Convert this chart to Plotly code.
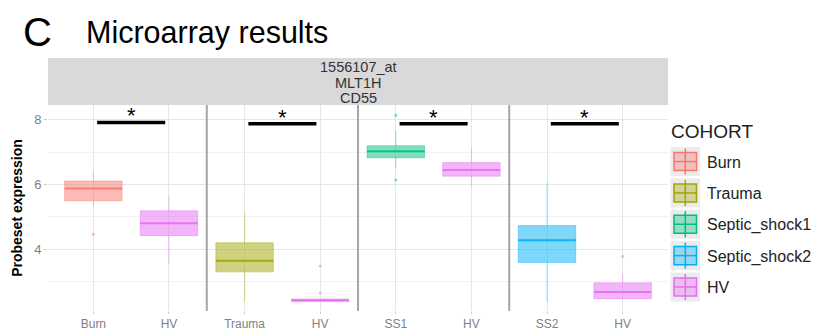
import plotly.graph_objects as go

# ---- data -------------------------------------------------------------
tick_labels = ["Burn", "HV", "Trauma", "HV", "SS1", "HV", "SS2", "HV"]
cohorts = ["Burn", "Trauma", "Septic_shock1", "Septic_shock2", "HV"]
colors = ["#F8766D", "#A3A500", "#00BF7D", "#00B0F6", "#E76BF3"]

# position index on the x axis for each cohort's boxes
cohort_pos = {
    "Burn": [0],
    "Trauma": [2],
    "Septic_shock1": [4],
    "Septic_shock2": [6],
    "HV": [1, 3, 5, 7],
}
q1 = {"Burn": [5.50], "Trauma": [3.30], "Septic_shock1": [6.83],
      "Septic_shock2": [3.59], "HV": [4.42, 2.38, 6.26, 2.47]}
median = {"Burn": [5.88], "Trauma": [3.64], "Septic_shock1": [7.03],
          "Septic_shock2": [4.28], "HV": [4.80, 2.42, 6.45, 2.68]}
q3 = {"Burn": [6.11], "Trauma": [4.20], "Septic_shock1": [7.20],
      "Septic_shock2": [4.73], "HV": [5.19, 2.46, 6.68, 2.96]}
lower = {"Burn": [5.33], "Trauma": [2.39], "Septic_shock1": [6.50],
         "Septic_shock2": [2.37], "HV": [3.53, 2.37, 5.93, 2.47]}
upper = {"Burn": [6.39], "Trauma": [5.12], "Septic_shock1": [7.66],
         "Septic_shock2": [6.05], "HV": [5.65, 2.47, 7.14, 3.25]}
outlier_x = {"Burn": [0], "Trauma": [], "Septic_shock1": [4, 4],
             "Septic_shock2": [], "HV": [3, 3, 7]}
outlier_y = {"Burn": [4.46], "Trauma": [], "Septic_shock1": [8.14, 6.14],
             "Septic_shock2": [], "HV": [3.48, 2.65, 3.78]}

# significance comparisons: (left index, right index, bar height)
comparisons = [(0, 1, 7.92), (2, 3, 7.88), (4, 5, 7.88), (6, 7, 7.88)]
group_breaks = [1.5, 3.5, 5.5]
strip_lines = ["1556107_at", "MLT1H", "CD55"]

BOX_W = 0.76
FONT = "Liberation Sans, Arial, sans-serif"

# plot-area geometry in pixels
W, H = 818, 330
PL, PR, PT, PB = 48, 668, 105, 310.7


def px_x(p):
    return (p - PL) / (PR - PL)


def px_y(p):
    return (PB - p) / (PB - PT)


def rgba(hexcol, a):
    h = hexcol.lstrip("#")
    r, g, b = int(h[0:2], 16), int(h[2:4], 16), int(h[4:6], 16)
    return f"rgba({r},{g},{b},{a})"


def label(x, y, text, size, color, xanchor="center", **kw):
    return dict(x=x, y=y, xref="paper", yref="paper", text=text,
                showarrow=False, xanchor=xanchor, yanchor="middle",
                font=dict(size=size, color=color, family=FONT), **kw)


fig = go.Figure()

for name, col in zip(cohorts, colors):
    fig.add_trace(go.Box(
        x=cohort_pos[name], q1=q1[name], median=median[name], q3=q3[name],
        lowerfence=lower[name], upperfence=upper[name],
        width=BOX_W, whiskerwidth=0, boxpoints=False,
        fillcolor=rgba(col, 0.5), line=dict(color=rgba(col, 0.4), width=1),
        name=name, showlegend=False, hoverinfo="skip",
    ))
    # stronger median segments
    mx, my = [], []
    for xp, m in zip(cohort_pos[name], median[name]):
        mx += [xp - BOX_W / 2, xp + BOX_W / 2, None]
        my += [m, m, None]
    fig.add_trace(go.Scatter(x=mx, y=my, mode="lines",
                             line=dict(color=rgba(col, 0.85), width=2),
                             showlegend=False, hoverinfo="skip"))
    if outlier_x[name]:
        fig.add_trace(go.Scatter(x=outlier_x[name], y=outlier_y[name],
                                 mode="markers",
                                 marker=dict(color=rgba(col, 0.5), size=3),
                                 showlegend=False, hoverinfo="skip"))

shapes = []
annotations = []

# group separators
for b in group_breaks:
    shapes.append(dict(type="line", xref="x", yref="paper", x0=b, x1=b,
                       y0=0, y1=1, line=dict(color="#a6a6a6", width=2)))

# significance bars and stars
for a, b, h in comparisons:
    shapes.append(dict(type="line", xref="x", yref="y", x0=a + 0.05,
                       x1=b - 0.05, y0=h, y1=h,
                       line=dict(color="black", width=3.5)))
    annotations.append(dict(x=(a + b) / 2, y=h, xref="x", yref="y",
                            text="*", showarrow=False, yanchor="bottom",
                            yshift=-8, font=dict(size=22, color="black",
                                                 family=FONT)))

# facet strip
shapes.append(dict(type="rect", xref="paper", yref="paper", x0=0, x1=1,
                   y0=1, y1=px_y(58), fillcolor="#d9d9d9", line_width=0,
                   layer="below"))
for i, t in enumerate(strip_lines):
    annotations.append(label(0.5, px_y(67.5 + 15.2 * i), t, 14.5, "#333333"))

# title
annotations.append(label(px_x(21), px_y(32), "C", 40, "black", "left"))
annotations.append(label(px_x(84), px_y(33), "Microarray results", 30.5,
                         "black", "left"))

# legend drawn as keys
annotations.append(label(px_x(669), px_y(131.5), "COHORT", 19, "#222222",
                         "left"))
for i, (name, col) in enumerate(zip(cohorts, colors)):
    cy = 161.5 + 31.3 * i
    shapes.append(dict(type="rect", xref="paper", yref="paper",
                       x0=px_x(670.5), x1=px_x(700), y0=px_y(cy + 14.5),
                       y1=px_y(cy - 14.5), fillcolor="#ebebeb", line_width=0))
    shapes.append(dict(type="line", xref="paper", yref="paper",
                       x0=px_x(685.3), x1=px_x(685.3), y0=px_y(cy - 13),
                       y1=px_y(cy + 13), line=dict(color=col, width=1.5)))
    shapes.append(dict(type="rect", xref="paper", yref="paper",
                       x0=px_x(674), x1=px_x(696.5), y0=px_y(cy + 9),
                       y1=px_y(cy - 9), fillcolor=rgba(col, 0.35),
                       line=dict(color=col, width=1.5)))
    shapes.append(dict(type="line", xref="paper", yref="paper",
                       x0=px_x(674), x1=px_x(696.5), y0=px_y(cy),
                       y1=px_y(cy), line=dict(color=col, width=1.5)))
    annotations.append(label(px_x(705), px_y(cy + 1), name, 16, "#222222",
                             "left"))

fig.update_layout(
    width=W, height=H,
    margin=dict(l=PL, r=W - PR, t=PT, b=H - PB, pad=0, autoexpand=False),
    paper_bgcolor="white", plot_bgcolor="white",
    showlegend=False,
    shapes=shapes, annotations=annotations,
    font=dict(family=FONT),
)
fig.update_xaxes(
    range=[-0.6, 7.6], tickvals=list(range(len(tick_labels))),
    ticktext=tick_labels, showgrid=True, gridcolor="#e6e6e6", gridwidth=1,
    zeroline=False, showline=False, ticks="outside", ticklen=2,
    tickcolor="#cccccc", tickfont=dict(size=12, color="#7f7f7f"),
    automargin=False,
)
fig.update_yaxes(
    range=[2.09, 8.46], tickvals=[4, 6, 8], showgrid=True,
    gridcolor="#e6e6e6", gridwidth=1, zeroline=False, showline=False,
    ticks="outside", ticklen=3, tickcolor="#cccccc",
    tickfont=dict(size=13, color="#7f7f7f"),
    minor=dict(tickvals=[3, 5, 7], showgrid=True, gridcolor="#f2f2f2",
               gridwidth=1, ticks=""),
    title=dict(text="<b>Probeset expression</b>", standoff=8,
               font=dict(size=14, color="black")),
    automargin=False,
)

fig.write_html("out.html")
